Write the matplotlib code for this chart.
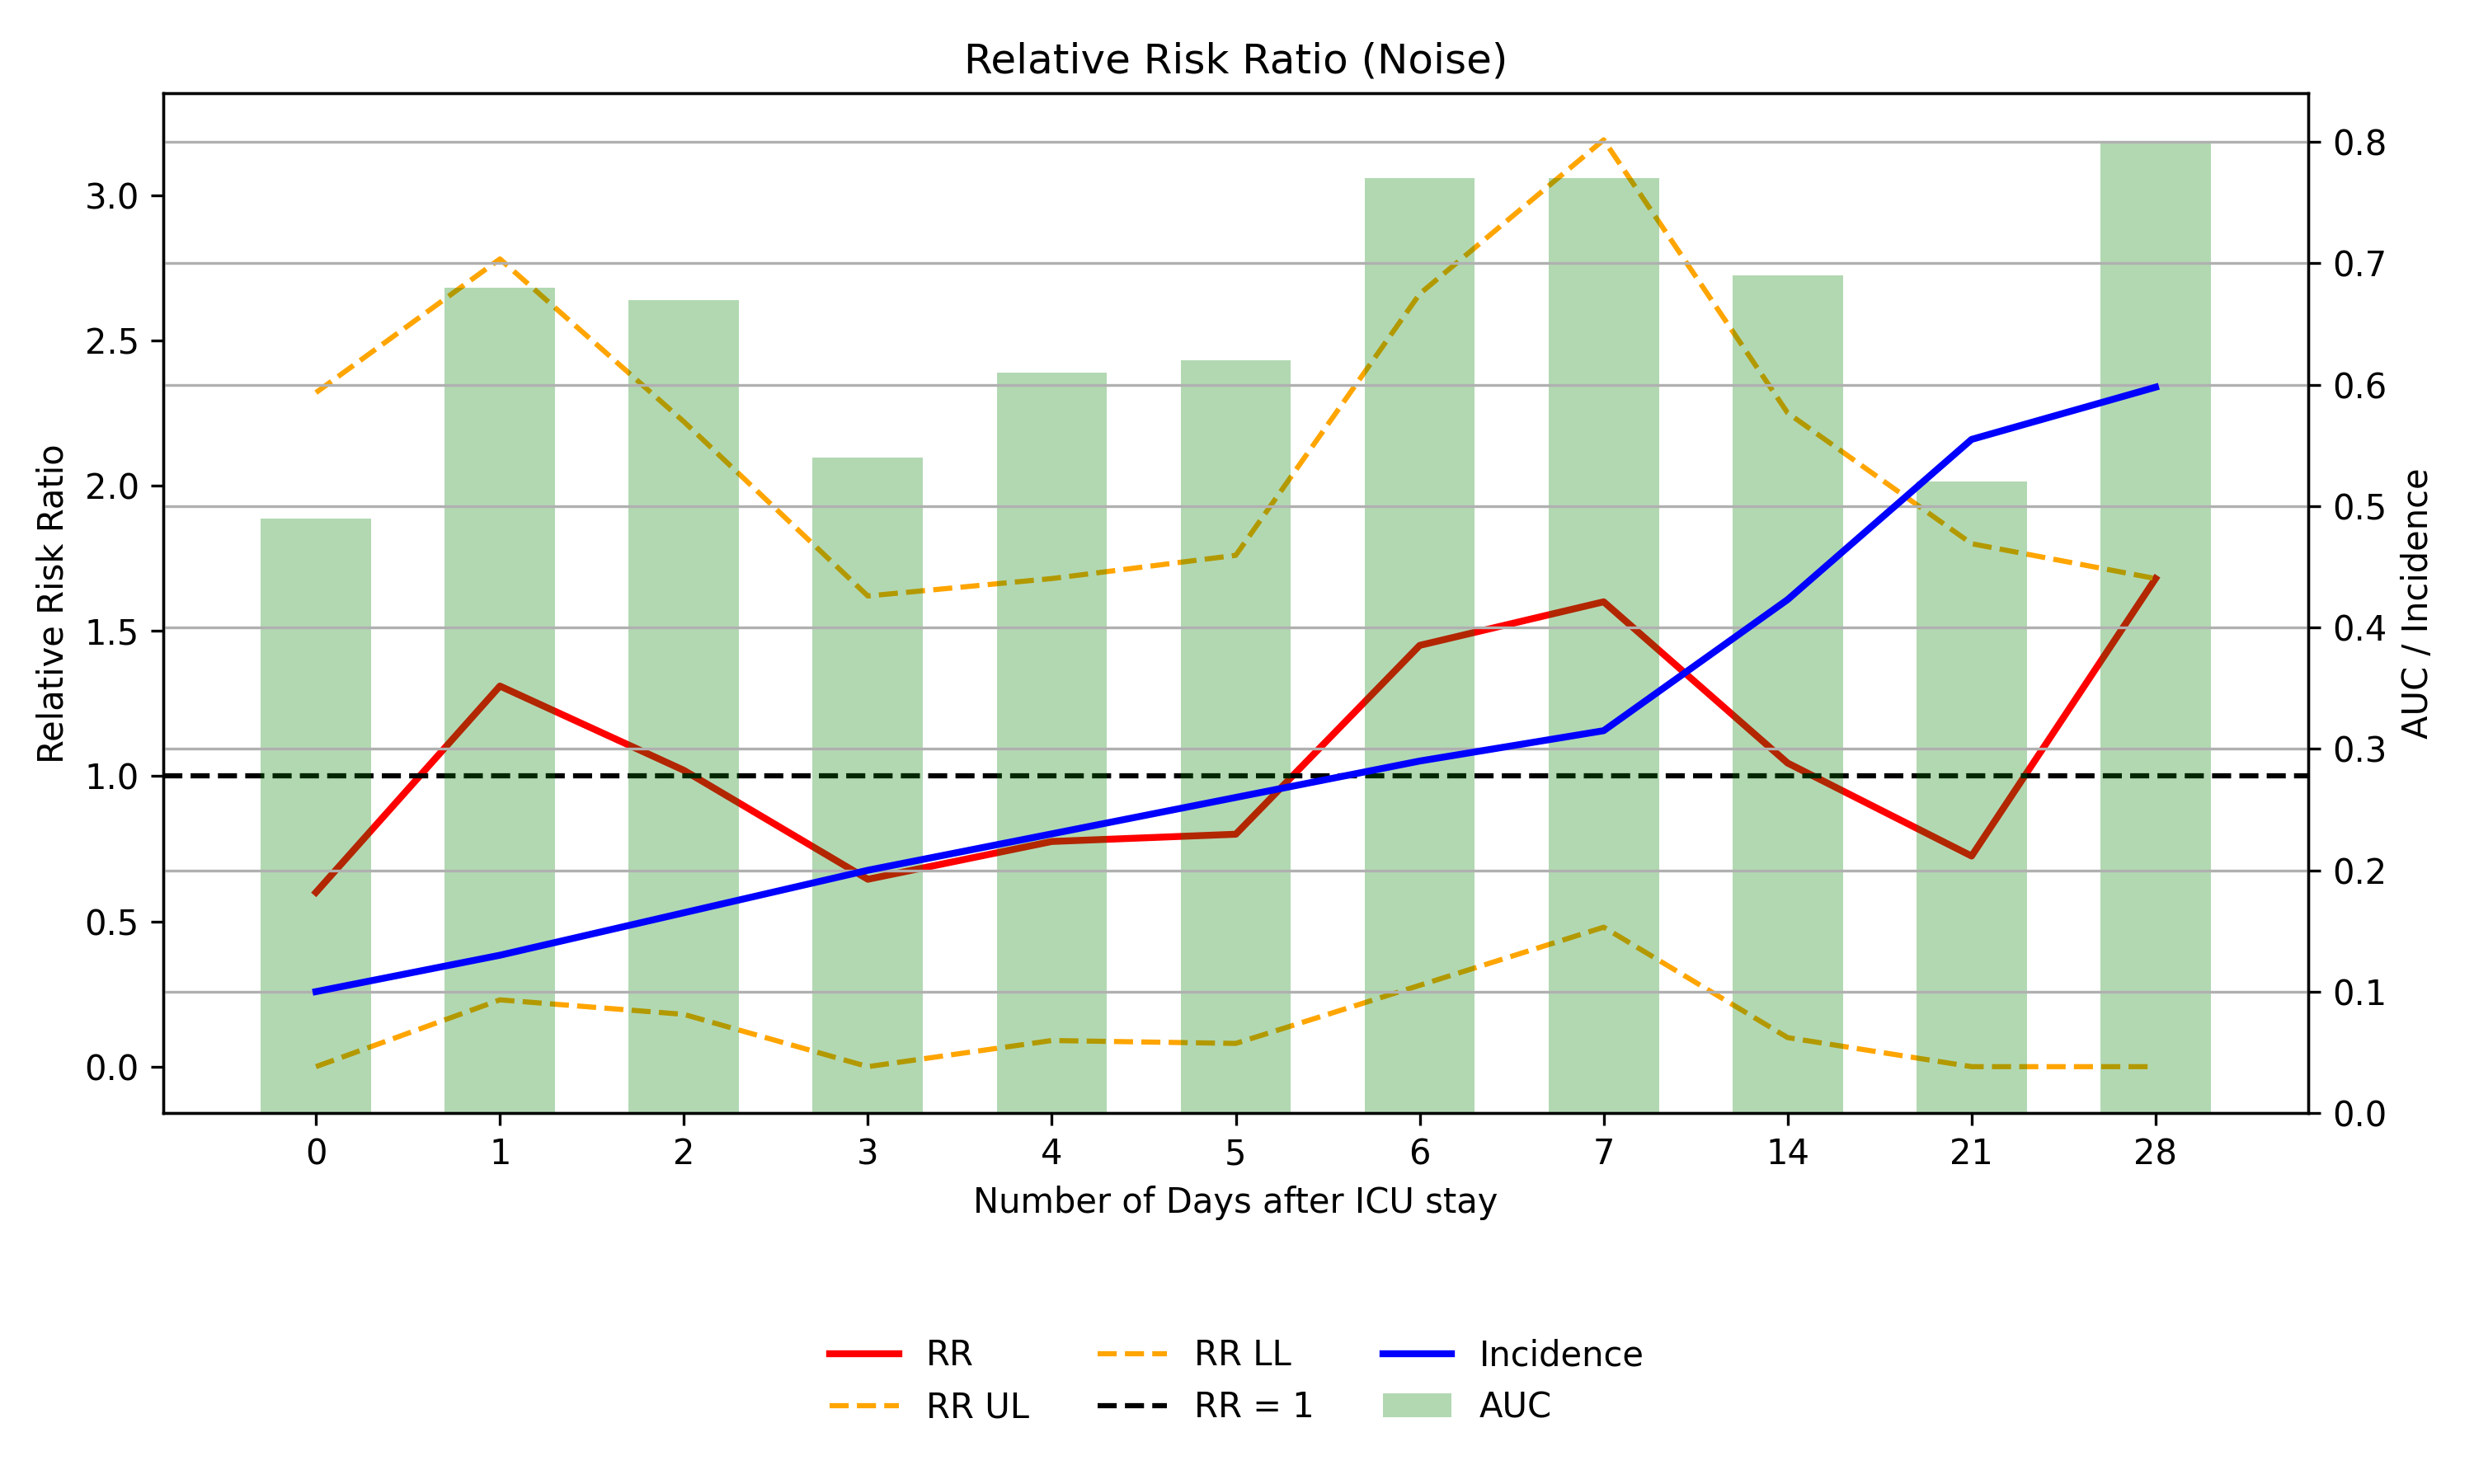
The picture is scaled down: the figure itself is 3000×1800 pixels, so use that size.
import numpy as np
import matplotlib
matplotlib.use('Agg')
import matplotlib.pyplot as plt

# days after ICU stay (categorical x positions)
days = ['0', '1', '2', '3', '4', '5', '6', '7', '14', '21', '28']

# relative risk ratio and its limits
rr = [0.60, 1.31, 1.02, 0.645, 0.775, 0.80, 1.45, 1.60, 1.045, 0.725, 1.68]
rr_ul = [2.32, 2.78, 2.22, 1.62, 1.68, 1.76, 2.66, 3.19, 2.25, 1.80, 1.68]
rr_ll = [0.00, 0.23, 0.18, 0.00, 0.09, 0.08, 0.28, 0.48, 0.10, 0.00, 0.00]

# right axis values
auc = [0.49, 0.68, 0.67, 0.54, 0.61, 0.62, 0.77, 0.77, 0.69, 0.52, 0.80]
incidence = [0.10, 0.13, 0.165, 0.20, 0.23, 0.26, 0.29, 0.315, 0.423, 0.555, 0.598]

x = np.arange(len(days))

fig, ax1 = plt.subplots(figsize=(10, 6), dpi=300)
fig.subplots_adjust(left=0.066, right=0.933, top=0.937, bottom=0.25)

l1, = ax1.plot(x, rr, color='red', lw=2, label='RR')
l2, = ax1.plot(x, rr_ul, color='orange', ls='--', lw=1.5, label='RR UL')
l3, = ax1.plot(x, rr_ll, color='orange', ls='--', lw=1.5, label='RR LL')
l4 = ax1.axhline(1.0, color='black', ls='--', lw=1.5, label='RR = 1')
ax1.set_ylabel('Relative Risk Ratio')
ax1.set_xlabel('Number of Days after ICU stay')
ax1.set_xticks(x)
ax1.set_xticklabels(days)
ax1.set_title('Relative Risk Ratio (Noise)')

ax2 = ax1.twinx()
bars = ax2.bar(x, auc, width=0.6, color='green', alpha=0.3, label='AUC')
l5, = ax2.plot(x, incidence, color='blue', lw=2, label='Incidence')
ax2.set_ylabel('AUC / Incidence')
ax2.grid(True, axis='y')

handles = [l1, l2, l3, l4, l5, bars]
fig.legend(handles, [h.get_label() for h in handles], loc='center',
           bbox_to_anchor=(0.5, 0.069), ncol=3, frameon=False)

plt.savefig('out.png')
